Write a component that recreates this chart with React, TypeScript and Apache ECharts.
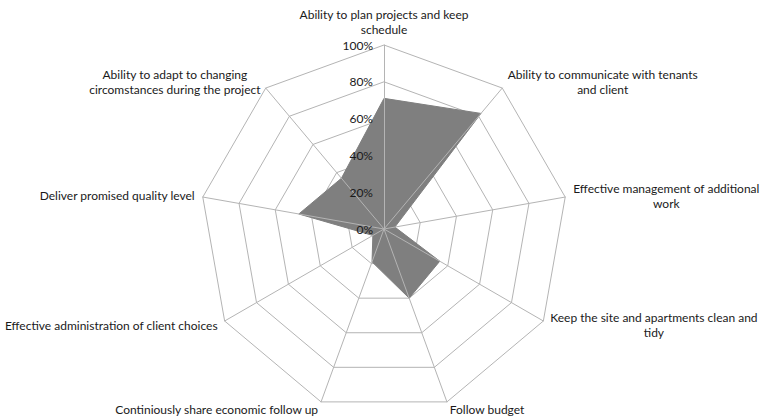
import React, { useEffect, useRef } from "react";
import * as echarts from "echarts";

// Categories in clockwise order starting from the top
const categories: string[] = [
  "Ability to plan projects and keep\nschedule",
  "Ability to communicate with tenants\nand client",
  "Effective management of additional\nwork",
  "Keep the site and apartments clean and\ntidy",
  "Follow budget",
  "Continiously share economic follow up",
  "Effective administration of client choices",
  "Deliver promised quality level",
  "Ability to adapt to changing\ncircomstances during the project",
];

const values: number[] = [71, 82, 6, 35, 40, 19, 7, 47, 36];

const axisMax = 100;
const splitCount = 5;

export default function App() {
  const ref = useRef<HTMLDivElement>(null);

  useEffect(() => {
    if (!ref.current) return;
    const chart = echarts.init(ref.current, undefined, { renderer: "svg" });

    // ECharts places indicators counter-clockwise; reverse all but the first
    const order = [0, ...categories.map((_, i) => i).slice(1).reverse()];
    const makeIndicator = (withLabel: boolean) =>
      order.map((i) => ({
        name: categories[i],
        min: 0,
        max: axisMax,
        ...(withLabel && i === 0
          ? {
              axisLabel: {
                show: true,
                formatter: "{value}%",
                color: "#1a1a1a",
                fontSize: 12,
                fontFamily: "Lato",
                margin: 11,
              },
            }
          : {}),
      }));
    const seriesValues = order.map((i) => values[i]);

    const common = {
      center: [384, 229],
      radius: 184,
      startAngle: 90,
      shape: "polygon",
      splitNumber: splitCount,
      splitArea: { show: false },
      axisTick: { show: false },
      axisLabel: { show: false },
    };

    chart.setOption({
      animation: false,
      backgroundColor: "#ffffff",
      radar: [
        {
          ...common,
          z: 0,
          indicator: makeIndicator(false),
          axisName: {
            color: "#1a1a1a",
            fontSize: 12,
            fontFamily: "Lato",
            lineHeight: 15,
            formatter: (name: string) =>
              name
                .split("\n")
                .map((l) => `{c|${l}}`)
                .join("\n"),
            rich: {
              c: {
                align: "center",
                color: "#1a1a1a",
                fontSize: 12,
                fontFamily: "Lato",
                lineHeight: 15,
              },
            },
          },
          nameGap: 8,
          axisLine: { show: false },
          splitLine: { lineStyle: { color: "#b4b4b4", width: 1 } },
        },
        {
          ...common,
          z: 5,
          indicator: makeIndicator(true),
          axisName: { show: false },
          axisLine: { lineStyle: { color: "#b4b4b4", width: 1 } },
          splitLine: { show: false },
        },
      ],
      series: [
        {
          type: "radar",
          radarIndex: 0,
          z: 2,
          symbol: "none",
          lineStyle: { color: "#7f7f7f", width: 1 },
          areaStyle: { color: "#7f7f7f", opacity: 1 },
          data: [{ value: seriesValues, name: "Score" }],
        },
      ],
    });

    return () => chart.dispose();
  }, []);

  return (
    <div
      ref={ref}
      style={{ position: "fixed", left: 0, top: 0, width: 761, height: 419 }}
    />
  );
}
